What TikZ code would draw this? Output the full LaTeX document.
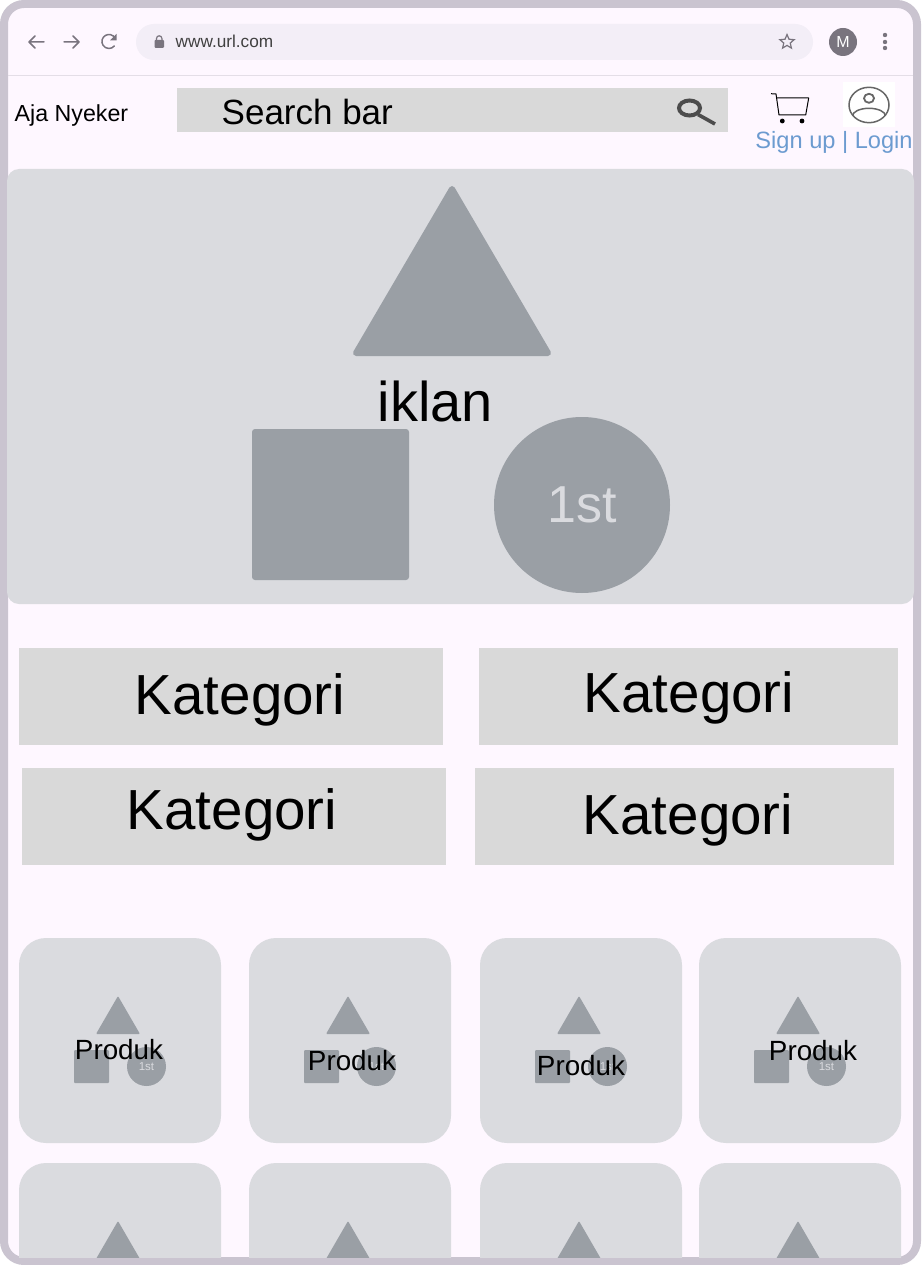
\documentclass[tikz,border=0pt]{standalone}
\usepackage{fontspec}
\setmainfont{Liberation Sans}
\usetikzlibrary{arrows.meta, positioning, shapes.geometric, calc}
\newcommand{\fs}[1]{\fontsize{#1}{#1}\selectfont}
\definecolor{framecol}{HTML}{CAC4D0}
\definecolor{pagecol}{HTML}{FEF7FF}
\definecolor{urlcol}{HTML}{F3EEF7}
\definecolor{chromecol}{HTML}{79747E}
\definecolor{boxcol}{HTML}{D9D9D9}
\definecolor{cardcol}{HTML}{DADBDF}
\definecolor{iconcol}{HTML}{9A9FA5}
\definecolor{linkcol}{HTML}{6C9BD0}

\begin{document}
\begin{tikzpicture}[
    x=1pt, y=-1pt,
    >=Stealth,
    barbox/.style={fill=boxcol, draw=none, inner sep=0pt, anchor=north west},
    katbox/.style={barbox, minimum height=97pt},
    kattext/.style={font=\fs{56.5}, inner sep=0pt},
    icontri/.style={fill=iconcol, draw=iconcol, line join=round},
    chromeline/.style={draw=chromecol, line width=1.5pt, line cap=round, line join=round},
    prodtext/.style={font=\fs{27.8}, inner sep=0pt}
  ]
  \useasboundingbox (0,0) rectangle (921,1265);
  \fill[white] (0,0) rectangle (921,1265);

  % frame and toolbar
  \draw[fill=pagecol, draw=framecol, line width=8pt, rounded corners=20pt]
    (4,4) rectangle (917,1261);
  \fill[urlcol, rounded corners=18pt] (136,24) rectangle (813,60);
  \draw[draw=framecol!50!pagecol, line width=1pt] (8,76) -- (913,76);

  \draw[chromeline] (44,42) -- (29,42) (35,36) -- (29,42) -- (35,48);
  \draw[chromeline] (64,42) -- (79,42) (73,36) -- (79,42) -- (73,48);
  \draw[chromeline] (115,38) arc[start angle=-30, end angle=-320, radius=7];
  \fill[chromecol] (116.5,34) -- (116.5,40.5) -- (110,40.5) -- cycle;
  \fill[chromecol, rounded corners=1pt] (154.5,40) rectangle (164,48);
  \draw[chromecol, line width=1.2pt] (156.5,41) -- (156.5,38.5) arc[start angle=180, end angle=360, radius=2.7] -- (162,41);
  \node[font=\fs{17.2}, text=black!75, inner sep=0pt, anchor=west] (url) at (175.5,41.5) {www.url.com};
  \node[star, star points=5, star point ratio=2.2, draw=chromecol, line width=1.2pt,
    minimum size=15pt, inner sep=0pt] (favstar) at (787,42) {};
  \node[circle, fill=chromecol, text=white, minimum size=28pt, inner sep=0pt, font=\fs{16}] (avatar) at (843,42) {M};
  \foreach \dy in {35,42,48}
    \fill[chromecol] (885,\dy) circle (2.2);

  % header row
  \node[font=\fs{23.2}, inner sep=0pt, anchor=west] (brand) at (14.5,116) {Aja Nyeker};
  \node[barbox, minimum width=551pt, minimum height=44pt] (search) at (177,88) {};
  \node[font=\fs{35}, inner sep=0pt, anchor=west] (searchtext) at (221.5,112) {Search bar};
  \draw[draw=black!70, line width=4pt] (689.5,108) ellipse (10.5 and 7.5);
  \draw[draw=black!70, line width=3.6pt] (698,114.5) -- (715,124);

  \draw[black, line width=1pt, line join=round] (771,93.7) -- (776,94) -- (779,115) -- (805.7,115) -- (808.7,98) -- (776.5,98);
  \fill (782.3,121) circle (2.4) (802,121) circle (2.4);

  \fill[white] (843,82) rectangle (895,127);
  \draw[black!60, line width=1.5pt] (869,105) ellipse (20 and 17.7);
  \draw[black!60, line width=1.8pt] (869,98.3) ellipse (5 and 4.5);
  \begin{scope}
    \clip (869,105) ellipse (20 and 17.7);
    \draw[black!60, line width=1.5pt] (869,116) ellipse (16.5 and 7.7);
  \end{scope}
  \node[font=\fs{23.6}, text=linkcol, inner sep=0pt] (signup) at (834,142) {Sign up | Login};

  % iklan
  \fill[cardcol, rounded corners=12pt] (7,169) rectangle (914,604);
  \draw[icontri, line width=6pt] (452,189) -- (548,353) -- (356,353) -- cycle;
  \fill[iconcol, rounded corners=3pt] (252,429) rectangle (409,580);
  \node[circle, fill=iconcol, minimum size=176pt, inner sep=0pt, text=cardcol, font=\fs{52}] (first) at (582,505) {1st};
  \node[font=\fs{56}, inner sep=0pt] (iklan) at (435.5,401) {iklan};

  % kategori
  \node[katbox, minimum width=424pt] (kat1) at (19,648) {};
  \node[katbox, minimum width=419pt] (kat2) at (479,648) {};
  \node[katbox, minimum width=424pt] (kat3) at (22,768) {};
  \node[katbox, minimum width=419pt] (kat4) at (475,768) {};
  \node[kattext] (kattext1) at (240,700) {Kategori};
  \node[kattext] (kattext2) at (689,698) {Kategori};
  \node[kattext] (kattext3) at (232,815) {Kategori};
  \node[kattext] (kattext4) at (688,820) {Kategori};

  % produk
  \begin{scope}
    \clip (8,900) rectangle (913,1257);
    \foreach \cx/\tx/\ty in {19/119/1050, 249/352/1061, 480/581/1066, 699/813/1051} {
      \foreach \cy in {938,1163} {
        \fill[cardcol, rounded corners=27pt] (\cx,\cy) rectangle +(202,205);
        \fill[iconcol, rounded corners=1pt] (\cx+99,\cy+58) -- (\cx+121,\cy+96) -- (\cx+77,\cy+96) -- cycle;
      }
      \fill[iconcol, rounded corners=1pt] (\cx+55,1050) rectangle +(35,33);
      \fill[iconcol] (\cx+127.5,1066.5) circle (19.5);
      \node[font=\fs{11.5}, text=cardcol, inner sep=0pt] at (\cx+127.5,1066.5) {1st};
      \node[prodtext] at (\tx,\ty) {Produk};
    }
  \end{scope}
\end{tikzpicture}
\end{document}
